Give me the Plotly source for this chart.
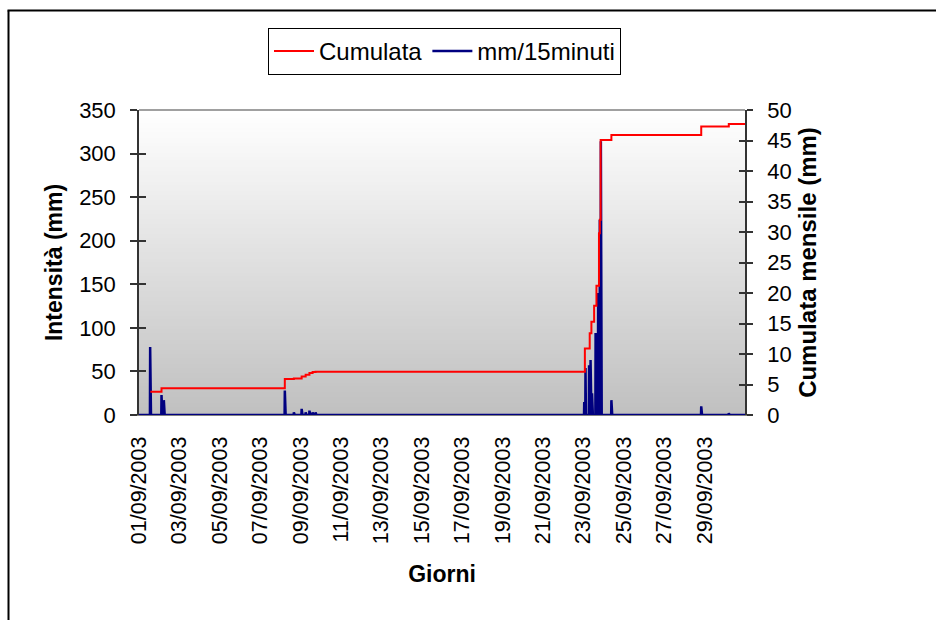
import pandas as pd
import plotly.graph_objects as go

# ---------------- data ----------------
# non-zero 15-minute rainfall readings (mm/15minuti), left axis
RAIN_TIMES = [
    "2003-09-01 13:15", "2003-09-01 13:30",
    "2003-09-02 02:45", "2003-09-02 05:30",
    "2003-09-08 05:15", "2003-09-08 16:00",
    "2003-09-09 01:15", "2003-09-09 06:00", "2003-09-09 10:30",
    "2003-09-09 14:15", "2003-09-09 17:45",
    "2003-09-23 01:00", "2003-09-23 02:30", "2003-09-23 06:45",
    "2003-09-23 08:30", "2003-09-23 10:15", "2003-09-23 14:30",
    "2003-09-23 17:30", "2003-09-23 19:30", "2003-09-23 20:45",
    "2003-09-24 09:15",
    "2003-09-28 20:00", "2003-09-28 20:45",
    "2003-09-30 04:45",
]
RAIN_VALUES = [
    78, 20,
    23, 17,
    28, 3,
    7, 3, 5,
    3, 3,
    15, 54, 57,
    63, 25, 94,
    140, 224, 314,
    17,
    10, 4,
    2,
]

# cumulative monthly rainfall (mm), right axis
CUM_TIMES = [
    "2003-09-01 13:30", "2003-09-02 02:45", "2003-09-08 05:15",
    "2003-09-08 16:00", "2003-09-09 01:15", "2003-09-09 06:00",
    "2003-09-09 10:30", "2003-09-09 14:15", "2003-09-09 17:45",
    "2003-09-23 01:45", "2003-09-23 07:30", "2003-09-23 09:30",
    "2003-09-23 12:45", "2003-09-23 15:30", "2003-09-23 18:30",
    "2003-09-23 19:30", "2003-09-23 20:30", "2003-09-24 09:15",
    "2003-09-28 20:00", "2003-09-30 04:45", "2003-10-01 00:00",
]
CUM_VALUES = [
    3.8, 4.4, 5.9,
    6.0, 6.3, 6.6,
    6.9, 7.05, 7.1,
    10.9, 13.4, 15.3,
    17.9, 21.2, 29.8,
    32.0, 45.1, 45.9,
    47.3, 47.7, 47.7,
]

TICK_DATES = ["2003-09-%02d" % d for d in range(1, 30, 2)]
TICK_LABELS = ["%02d/09/2003" % d for d in range(1, 30, 2)]

# full 15-minute series: zero where no reading above
grid = pd.date_range("2003-09-01 00:00", "2003-10-01 00:00", freq="15min")
rain = pd.Series(0.0, index=grid)
rain.loc[pd.to_datetime(RAIN_TIMES)] = RAIN_VALUES

# ---------------- figure ----------------
W, H = 936, 620
L, R, T, B = 139, 745, 110, 415   # plot-area pixel box
FONT = "Liberation Sans, Arial, sans-serif"


def px_x(p):
    return (p - L) / (R - L)


def px_y(p):
    return (B - p) / (B - T)


fig = go.Figure()

fig.add_trace(go.Scatter(
    x=grid, y=rain.values, name="mm/15minuti", mode="lines",
    line=dict(color="#000080", width=2.5), yaxis="y",
))
fig.add_trace(go.Scatter(
    x=pd.to_datetime(CUM_TIMES), y=CUM_VALUES, name="Cumulata", mode="lines",
    line=dict(color="#ff0000", width=2, shape="hv"), yaxis="y2",
))
# helper axes for inner halves of crossing ticks
fig.add_trace(go.Scatter(x=[], y=[], yaxis="y3", showlegend=False))
fig.add_trace(go.Scatter(x=[], y=[], yaxis="y4", showlegend=False))

# gradient plot-area background (slightly overlapping stripes, no seams)
shapes = []
N = 150
for i in range(N):
    f = i / (N - 1)
    g = round(192 + (255 - 192) * f)
    shapes.append(dict(
        type="rect", xref="x domain", yref="y domain",
        x0=0, x1=1, y0=i / N, y1=min(1.0, (i + 1.6) / N),
        fillcolor="rgb(%d,%d,%d)" % (g, g, g), line=dict(width=0),
        layer="below",
    ))
# top border of plot area
shapes.append(dict(type="line", xref="x domain", yref="y domain",
                   x0=0, x1=1, y0=1, y1=1,
                   line=dict(color="#808080", width=1.5)))
# outer chart frame (left and top edges)
shapes.append(dict(type="line", xref="paper", yref="paper",
                   x0=px_x(8.5), x1=px_x(8.5), y0=px_y(640), y1=px_y(10.5),
                   line=dict(color="black", width=2)))
shapes.append(dict(type="line", xref="paper", yref="paper",
                   x0=px_x(7.5), x1=px_x(960), y0=px_y(10.5), y1=px_y(10.5),
                   line=dict(color="black", width=2)))

tickfont = dict(family=FONT, size=22, color="black")
xtickfont = dict(family=FONT, size=21.5, color="black")
titlefont = dict(family=FONT, size=23, color="black", weight="bold")
titlefont_r = dict(family=FONT, size=24, color="black", weight="bold")

fig.update_layout(
    width=W, height=H,
    margin=dict(l=L, r=W - R, t=T, b=H - B),
    paper_bgcolor="white", plot_bgcolor="white",
    font=dict(family=FONT, color="black"),
    shapes=shapes,
    legend=dict(
        orientation="h", x=px_x(268), y=px_y(28), xanchor="left", yanchor="top",
        bgcolor="white", bordercolor="black", borderwidth=1,
        font=dict(family=FONT, size=24, color="black"),
        traceorder="reversed", itemwidth=40,
    ),
    xaxis=dict(
        type="date", range=["2003-09-01 00:00", "2003-10-01 00:00"],
        tickvals=TICK_DATES, ticktext=TICK_LABELS, tickangle=-90,
        tickfont=xtickfont, ticks="", ticklabelstandoff=12,
        showgrid=False, zeroline=False,
        showline=True, linecolor="#808080", linewidth=1,
        title=dict(text="Giorni", font=titlefont, standoff=22),
    ),
    yaxis=dict(
        range=[0, 350], tickvals=[0, 50, 100, 150, 200, 250, 300, 350],
        tickfont=tickfont, ticks="outside", ticklen=7, tickcolor="#333",
        tickwidth=1.5, ticklabelstandoff=10,
        showgrid=False, zeroline=False,
        showline=True, linecolor="#333", linewidth=1.5,
        title=dict(text="Intensità (mm)", font=titlefont, standoff=10),
    ),
    yaxis2=dict(
        range=[0, 50], tickvals=list(range(0, 51, 5)), overlaying="y", side="right",
        tickfont=tickfont, ticks="outside", ticklen=6, tickcolor="#333",
        tickwidth=1.5, ticklabelstandoff=10,
        showgrid=False, zeroline=False,
        showline=True, linecolor="#333", linewidth=1.5,
        title=dict(text="Cumulata mensile (mm)", font=titlefont_r, standoff=9),
    ),
    yaxis3=dict(
        range=[0, 350], tickvals=[0, 50, 100, 150, 200, 250, 300, 350],
        overlaying="y", side="left", ticks="inside", ticklen=7,
        tickcolor="#333", tickwidth=1.5, showticklabels=False,
        showgrid=False, zeroline=False, showline=False,
    ),
    yaxis4=dict(
        range=[0, 50], tickvals=list(range(0, 51, 5)),
        overlaying="y", side="right", ticks="inside", ticklen=6,
        tickcolor="#333", tickwidth=1.5, showticklabels=False,
        showgrid=False, zeroline=False, showline=False,
    ),
)

fig.write_html("out.html")
